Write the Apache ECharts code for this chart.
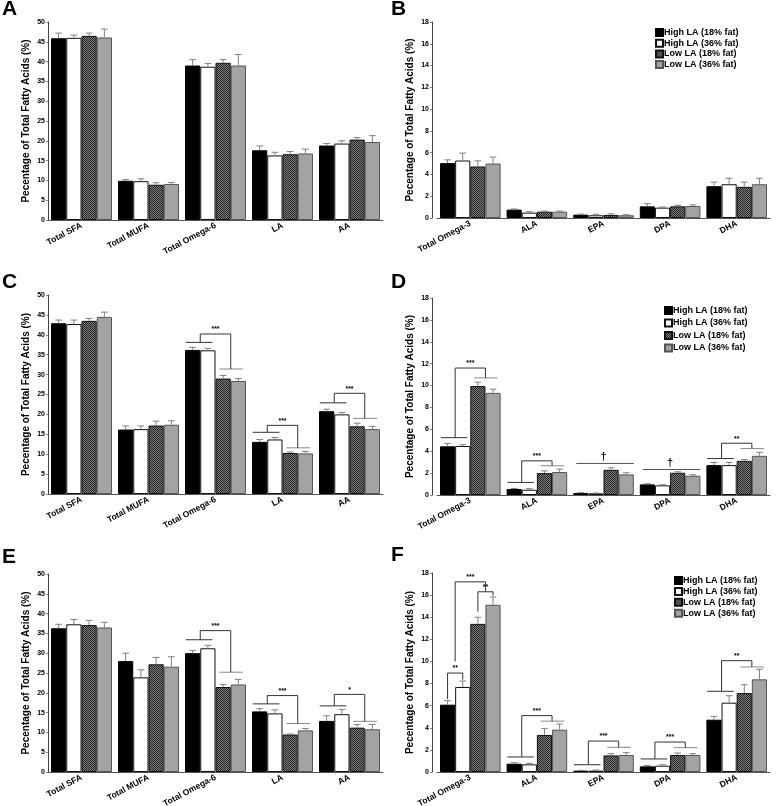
<!DOCTYPE html>
<html><head><meta charset="utf-8">
<script src="https://cdn.jsdelivr.net/npm/echarts@6/dist/echarts.min.js"></script>
<style>html,body{margin:0;padding:0;background:#fff}#c{width:776px;height:806px}</style>
</head><body><div id="c"></div>
<script>
// ---------- categories / groups ----------
var omega6Cats = ['Total SFA', 'Total MUFA', 'Total Omega-6', 'LA', 'AA'];
var omega3Cats = ['Total Omega-3', 'ALA', 'EPA', 'DPA', 'DHA'];
var groupNames = ['High LA (18% fat)', 'High LA (36% fat)', 'Low LA (18% fat)', 'Low LA (36% fat)'];
var ticksLeft = {max: 50, interval: 5};
var ticksRight = {max: 18, interval: 2};

// ---------- Panel A (means, SEM) ----------
var aHigh18 = [45.9, 9.9, 39.0, 17.6, 18.8];
var aHigh36 = [46.0, 9.8, 38.7, 16.3, 19.3];
var aLow18  = [46.5, 8.9, 39.7, 16.6, 20.3];
var aLow36  = [46.1, 9.1, 39.0, 16.8, 19.7];
var aErrHigh18 = [1.3, 0.3, 1.5, 1.1, 0.5];
var aErrHigh36 = [0.7, 0.6, 0.8, 0.8, 0.7];
var aErrLow18  = [0.7, 0.5, 0.8, 0.7, 0.5];
var aErrLow36  = [2.1, 0.4, 2.8, 1.1, 1.6];

// ---------- Panel B ----------
var bHigh18 = [5.04, 0.77, 0.31, 1.07, 2.92];
var bHigh36 = [5.28, 0.49, 0.25, 0.95, 3.10];
var bLow18  = [4.73, 0.58, 0.28, 1.07, 2.86];
var bLow36  = [5.00, 0.58, 0.25, 1.10, 3.10];
var bErrHigh18 = [0.30, 0.06, 0.05, 0.25, 0.37];
var bErrHigh36 = [0.68, 0.09, 0.10, 0.06, 0.55];
var bErrLow18  = [0.52, 0.06, 0.10, 0.10, 0.43];
var bErrLow36  = [0.60, 0.06, 0.05, 0.10, 0.55];

// ---------- Panel C ----------
var cHigh18 = [42.9, 16.2, 36.2, 13.1, 20.8];
var cHigh36 = [42.7, 16.3, 36.1, 13.7, 20.0];
var cLow18  = [43.5, 17.2, 29.0, 10.3, 17.0];
var cLow36  = [44.5, 17.4, 28.4, 10.2, 16.3];
var cErrHigh18 = [0.8, 0.9, 0.65, 0.6, 0.5];
var cErrHigh36 = [1.0, 0.8, 0.5, 0.5, 0.5];
var cErrLow18  = [0.6, 1.1, 0.8, 0.25, 0.8];
var cErrLow36  = [1.2, 1.0, 0.6, 0.5, 0.7];
// [category, high-LA group line, low-LA group line, bracket top, label]
var cSig = [[2, 38.1, 31.4, 40.2, '***'], [3, 15.5, 11.6, 17.25, '***'], [4, 22.9, 19.0, 25.3, '***']];

// ---------- Panel D ----------
var dHigh18 = [4.45, 0.55, 0.18, 0.97, 2.73];
var dHigh36 = [4.48, 0.48, 0.15, 0.88, 2.73];
var dLow18  = [9.95, 2.00, 2.30, 2.03, 3.12];
var dLow36  = [9.33, 2.10, 1.88, 1.76, 3.58];
var dErrHigh18 = [0.25, 0.05, 0.03, 0.06, 0.24];
var dErrHigh36 = [0.12, 0.10, 0.03, 0.06, 0.24];
var dErrLow18  = [0.36, 0.20, 0.18, 0.09, 0.12];
var dErrLow36  = [0.34, 0.26, 0.15, 0.09, 0.32];
var dSig = [[0, 5.24, 10.7, 11.6, '***'], [1, 1.15, 2.67, 3.12, '***'], [4, 3.33, 4.24, 4.73, '**']];
// [category, line level, label]
var dLine = [[2, 2.88, '\u2020'], [3, 2.33, '\u2020']];

// ---------- Panel E ----------
var eHigh18 = [36.3, 28.0, 30.0, 15.3, 12.9];
var eHigh36 = [37.3, 23.9, 31.25, 14.8, 14.6];
var eLow18  = [37.1, 27.2, 21.45, 9.46, 11.2];
var eLow36  = [36.5, 26.6, 22.1, 10.5, 10.8];
var eErrHigh18 = [1.0, 2.0, 0.7, 0.7, 1.3];
var eErrHigh36 = [1.2, 1.9, 0.75, 0.9, 1.2];
var eErrLow18  = [1.2, 1.7, 0.65, 0.14, 0.8];
var eErrLow36  = [1.3, 2.5, 1.3, 0.5, 1.2];
var eSig = [[2, 33.4, 25.2, 35.7, '***'], [3, 17.2, 12.25, 19.3, '***'], [4, 16.7, 12.8, 19.6, '*']];

// ---------- Panel F ----------
var fHigh18 = [6.09, 0.75, 0.12, 0.51, 4.73];
var fHigh36 = [7.69, 0.69, 0.12, 0.57, 6.27];
var fLow18  = [13.4, 3.35, 1.50, 1.54, 7.14];
var fLow36  = [15.13, 3.83, 1.54, 1.54, 8.38];
var fErrHigh18 = [0.36, 0.09, 0.03, 0.09, 0.30];
var fErrHigh36 = [0.54, 0.09, 0.06, 0.09, 0.63];
var fErrLow18  = [0.60, 0.57, 0.16, 0.18, 0.76];
var fErrLow36  = [0.70, 0.51, 0.21, 0.12, 0.91];
var fSig = [[1, 1.36, 4.6, 5.1, '***'], [2, 0.66, 2.23, 2.8, '***'], [3, 1.18, 2.2, 2.71, '***'], [4, 7.3, 9.5, 10.07, '**']];
// [category, left bar, right bar, left leg end, right leg end, bracket top, label]
var fPair = [[0, 0, 1, 6.6, 8.35, 8.95, '**'], [0, 2, 3, 14.5, 15.95, 16.3, '**'], [0, 0.5, 2.5, 10.0, 16.3, 17.2, '***']];

// ---------- styling ----------
var FONT = '"Liberation Sans", Arial, Helvetica, sans-serif';
function checker() {
  var c = document.createElement('canvas'); c.width = 2; c.height = 2;
  var g = c.getContext('2d');
  g.fillStyle = '#7c7c7c'; g.fillRect(0, 0, 2, 2);
  g.fillStyle = '#262626'; g.fillRect(0, 0, 1, 1); g.fillRect(1, 1, 1, 1);
  return c;
}
var barStyles = [
  {color: '#000000', borderColor: '#000000', borderWidth: 1},
  {color: '#ffffff', borderColor: '#111111', borderWidth: 1},
  {color: {image: checker(), repeat: 'repeat'}, borderColor: '#111111', borderWidth: 1},
  {color: '#a3a3a3', borderColor: '#555555', borderWidth: 1}
];
var GAPFRAC = 0.09, NB = 4;
function barX(api, cat, u) {
  var band = api.size([1, 0])[0];
  var w = (1 - GAPFRAC) / NB;
  return api.coord([cat, 0])[0] + (-(1 - GAPFRAC) / 2 + w * (u + 0.5)) * band;
}

var panels = [
  {letter: 'A', grid: {left: 48, top: 22, width: 335, height: 198}, cats: omega6Cats, ticks: ticksLeft,
   vals: [aHigh18, aHigh36, aLow18, aLow36], errs: [aErrHigh18, aErrHigh36, aErrLow18, aErrLow36]},
  {letter: 'B', grid: {left: 437, top: 22, width: 333, height: 196}, cats: omega3Cats, ticks: ticksRight,
   vals: [bHigh18, bHigh36, bLow18, bLow36], errs: [bErrHigh18, bErrHigh36, bErrLow18, bErrLow36],
   legend: {left: 655, top: 28, gap: 1.7}},
  {letter: 'C', grid: {left: 48, top: 295, width: 335, height: 199}, cats: omega6Cats, ticks: ticksLeft,
   vals: [cHigh18, cHigh36, cLow18, cLow36], errs: [cErrHigh18, cErrHigh36, cErrLow18, cErrLow36], sig: cSig},
  {letter: 'D', grid: {left: 437, top: 298, width: 333, height: 197}, cats: omega3Cats, ticks: ticksRight,
   vals: [dHigh18, dHigh36, dLow18, dLow36], errs: [dErrHigh18, dErrHigh36, dErrLow18, dErrLow36], sig: dSig, line: dLine,
   legend: {left: 664, top: 306, gap: 3.5}},
  {letter: 'E', grid: {left: 48, top: 574, width: 335, height: 198}, cats: omega6Cats, ticks: ticksLeft,
   vals: [eHigh18, eHigh36, eLow18, eLow36], errs: [eErrHigh18, eErrHigh36, eErrLow18, eErrLow36], sig: eSig},
  {letter: 'F', grid: {left: 437, top: 573, width: 333, height: 199}, cats: omega3Cats, ticks: ticksRight,
   vals: [fHigh18, fHigh36, fLow18, fLow36], errs: [fErrHigh18, fErrHigh36, fErrLow18, fErrLow36], sig: fSig, pair: fPair,
   legend: {left: 674, top: 576, gap: 1.9}}
];
var letterPos = [[2, -1], [391, -1], [2, 272], [391, 272], [2, 547], [391, 545]];

var option = {animation: false, backgroundColor: '#fff', grid: [], xAxis: [], yAxis: [], series: [], legend: [], graphic: []};

function lineEl(x1, y1, x2, y2, color) {
  return {type: 'line', shape: {x1: x1, y1: y1, x2: x2, y2: y2}, style: {stroke: color, lineWidth: 1}};
}
function textEl(x, y, t, size) {
  return {type: 'text', style: {x: x, y: y, text: t, fill: '#000', align: 'center', verticalAlign: 'bottom',
    font: 'bold ' + size + 'px ' + FONT}};
}

panels.forEach(function (p, k) {
  var right = k % 2 === 1;
  option.grid.push(Object.assign({containLabel: false, outerBoundsMode: 'none'}, p.grid));
  option.xAxis.push({
    type: 'category', gridIndex: k, data: p.cats,
    axisLine: {lineStyle: {color: '#555', width: 1}},
    axisTick: {show: false},
    axisLabel: {interval: 0, rotate: 28, margin: 5, fontSize: 8.5, fontWeight: 'bold', fontFamily: FONT, color: '#000'}
  });
  option.yAxis.push({
    type: 'value', gridIndex: k, min: 0, max: p.ticks.max, interval: p.ticks.interval,
    offset: right ? 5 : 0,
    name: 'Pecentage of Total Fatty Acids (%)', nameLocation: 'middle', nameGap: 17,
    nameTextStyle: {fontSize: 10, fontWeight: 'bold', fontFamily: FONT, color: '#000'},
    axisLine: {show: true, lineStyle: {color: '#444', width: 1}},
    axisTick: {show: true, length: 2, lineStyle: {color: '#888'}},
    splitLine: {show: false},
    axisLabel: {fontSize: 7, fontWeight: 'bold', fontFamily: FONT, color: '#000', margin: 3}
  });
  // bars
  p.vals.forEach(function (vals, i) {
    option.series.push({
      type: 'bar', name: groupNames[i], xAxisIndex: k, yAxisIndex: k, data: vals,
      barGap: '0%', barCategoryGap: (GAPFRAC * 100) + '%', itemStyle: barStyles[i], silent: true
    });
  });
  // error bars (upper SEM)
  p.vals.forEach(function (vals, i) {
    var errs = p.errs[i];
    option.series.push({
      type: 'custom', name: 'err' + k + '_' + i, xAxisIndex: k, yAxisIndex: k, silent: true, z: 3,
      data: vals.map(function (v, c) { return [c, v, errs[c]]; }),
      encode: {x: 0, y: 1},
      renderItem: function (params, api) {
        var c = api.value(0), v = api.value(1), e = api.value(2);
        var x = barX(api, c, i);
        var y0 = api.coord([c, v])[1], y1 = api.coord([c, v + e])[1];
        var cap = api.size([1, 0])[0] * 0.05;
        return {type: 'group', children: [
          lineEl(x, y0, x, y1, '#808080'),
          lineEl(x - cap, y1, x + cap, y1, '#808080')
        ]};
      }
    });
  });
  // group comparison brackets
  if (p.sig) {
    var sig = p.sig;
    option.series.push({
      type: 'custom', name: 'sig' + k, xAxisIndex: k, yAxisIndex: k, silent: true, z: 4,
      data: sig.map(function (r) { return [r[0], r[3]]; }), encode: {x: 0, y: 1},
      renderItem: function (params, api) {
        var r = sig[params.dataIndex], c = r[0];
        var Y = function (v) { return api.coord([c, v])[1]; };
        var xl = barX(api, c, 0.5), xr = barX(api, c, 2.5);
        return {type: 'group', children: [
          lineEl(barX(api, c, -0.45), Y(r[1]), barX(api, c, 1.3), Y(r[1]), '#333'),
          lineEl(barX(api, c, 1.75), Y(r[2]), barX(api, c, 3.3), Y(r[2]), '#888'),
          {type: 'polyline', shape: {points: [[xl, Y(r[1])], [xl, Y(r[3])], [xr, Y(r[3])], [xr, Y(r[2])]]},
           style: {stroke: '#333', lineWidth: 1, fill: null}},
          textEl((xl + xr) / 2, Y(r[3]) - 1, r[4], 7)
        ]};
      }
    });
  }
  if (p.line) {
    var ln = p.line;
    option.series.push({
      type: 'custom', name: 'line' + k, xAxisIndex: k, yAxisIndex: k, silent: true, z: 4,
      data: ln.map(function (r) { return [r[0], r[1]]; }), encode: {x: 0, y: 1},
      renderItem: function (params, api) {
        var r = ln[params.dataIndex], c = r[0];
        var y = api.coord([c, r[1]])[1];
        return {type: 'group', children: [
          lineEl(barX(api, c, -0.3), y, barX(api, c, 3.5), y, '#555'),
          textEl(barX(api, c, 1.5), y - 1, r[2], 11)
        ]};
      }
    });
  }
  if (p.pair) {
    var pr = p.pair;
    option.series.push({
      type: 'custom', name: 'pair' + k, xAxisIndex: k, yAxisIndex: k, silent: true, z: 4,
      data: pr.map(function (r) { return [r[0], r[5]]; }), encode: {x: 0, y: 1},
      renderItem: function (params, api) {
        var r = pr[params.dataIndex], c = r[0];
        var Y = function (v) { return api.coord([c, v])[1]; };
        var xl = barX(api, c, r[1]), xr = barX(api, c, r[2]);
        return {type: 'group', children: [
          {type: 'polyline', shape: {points: [[xl, Y(r[3])], [xl, Y(r[5])], [xr, Y(r[5])], [xr, Y(r[4])]]},
           style: {stroke: '#333', lineWidth: 1, fill: null}},
          textEl((xl + xr) / 2, Y(r[5]) - 1, r[6], 7)
        ]};
      }
    });
  }
  if (p.legend) {
    option.legend.push({
      orient: 'vertical', left: p.legend.left, top: p.legend.top, itemWidth: 7, itemHeight: 7,
      itemGap: p.legend.gap, icon: 'rect', selectedMode: false, data: groupNames, padding: 0,
      textStyle: {fontSize: 9, fontWeight: 'bold', fontFamily: FONT, color: '#000', padding: [0, 0, 0, -4]}
    });
  }
  option.graphic.push({type: 'text', left: letterPos[k][0], top: letterPos[k][1],
    style: {text: p.letter, font: 'bold 21px ' + FONT, fill: '#000'}});
});

var chart = echarts.init(document.getElementById('c'), null, {renderer: 'canvas'});
chart.setOption(option);
</script>
</body></html>
